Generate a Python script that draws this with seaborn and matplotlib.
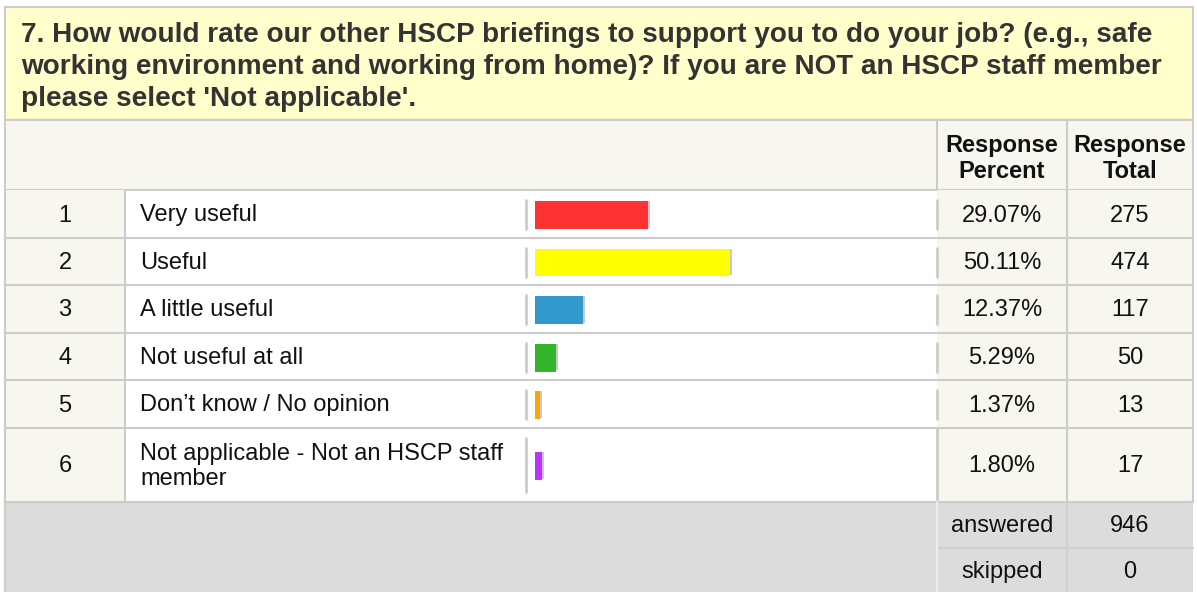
import textwrap
import matplotlib
matplotlib.use("Agg")
import matplotlib.pyplot as plt
import matplotlib.patheffects as pe
from matplotlib import font_manager as fm
from matplotlib.patches import Rectangle
import seaborn as sns

# Datos de la pregunta
pregunta = ("7. How would rate our other HSCP briefings to support you to do your job? (e.g., safe\n"
            "working environment and working from home)? If you are NOT an HSCP staff member\n"
            "please select 'Not applicable'.")
opciones = ["Very useful", "Useful", "A little useful", "Not useful at all",
            "Don\u2019t know / No opinion", "Not applicable - Not an HSCP staff member"]
porcentajes = [29.07, 50.11, 12.37, 5.29, 1.37, 1.80]
totales = [275, 474, 117, 50, 13, 17]
colores = ["#ff3333", "#ffff00", "#3399cc", "#33b52b", "#ffa500", "#bb33ff"]
respondidas = 946
omitidas = 0

sns.set_theme(style="white")
plt.rcParams["font.family"] = ["Liberation Sans", "DejaVu Sans"]

fs = 17
fs_titulo = 20.1

# buscar la Liberation Sans Bold (no la Narrow)
ruta_bold = None
for f in fm.fontManager.ttflist:
    if "liberationsans-bold.ttf" in f.fname.lower():
        ruta_bold = f.fname
if ruta_bold:
    negrita = fm.FontProperties(fname=ruta_bold, size=fs)
    negrita_t = fm.FontProperties(fname=ruta_bold, size=fs_titulo)
else:
    negrita = fm.FontProperties(family="Liberation Sans", weight="bold", size=fs)
    negrita_t = fm.FontProperties(family="Liberation Sans", weight="bold", size=fs_titulo)

W, H = 1197, 592
fig = plt.figure(figsize=(W / 100, H / 100), dpi=100)
fig.patch.set_facecolor("white")
ax = fig.add_axes([0, 0, 1, 1])
ax.set_xlim(0, W)
ax.set_ylim(H, 0)
ax.axis("off")

borde = "#cccccc"
beige = "#f7f7f0"
negro = "#111111"

# Cabecera amarilla con la pregunta
ax.add_patch(Rectangle((5, 7), 1188, 113, facecolor="#ffffcc", edgecolor=borde, lw=1.5))
for k, linea in enumerate(pregunta.split("\n")):
    ax.text(21, 41.5 + 32.5 * k, linea, fontproperties=negrita_t, color="#333333",
            va="baseline", ha="left")

# Fila de encabezados
ax.add_patch(Rectangle((5, 120), 1188, 70, facecolor=beige, edgecolor=borde, lw=1.5))
ax.plot([937, 937], [120, 190], color=borde, lw=1.5)
ax.plot([1067, 1067], [120, 190], color=borde, lw=1.5)
for xc, txt in [(1002, ["Response", "Percent"]), (1130, ["Response", "Total"])]:
    ax.text(xc, 152, txt[0], fontproperties=negrita, ha="center", va="baseline", color=negro)
    ax.text(xc, 178, txt[1], fontproperties=negrita, ha="center", va="baseline", color=negro)

# Filas de datos
limites = [190, 238, 285, 333, 380, 428, 502]
for i, (op, pct, tot, col) in enumerate(zip(opciones, porcentajes, totales, colores)):
    y0, y1 = limites[i], limites[i + 1]
    yc = (y0 + y1) / 2
    yt = yc + 1.5
    ax.add_patch(Rectangle((5, y0), 120, y1 - y0, facecolor=beige, edgecolor="none"))
    ax.add_patch(Rectangle((937, y0), 256, y1 - y0, facecolor=beige, edgecolor="none"))
    ax.plot([5, 1193], [y1, y1], color=borde, lw=1.5)
    for xv in [5, 125, 1067, 1193]:
        ax.plot([xv, xv], [y0, y1], color=borde, lw=1.5)
    # separadores cortos de la columna de barras
    if i < 5:
        ax.plot([526, 526], [yc - 14, yc + 15], color=borde, lw=2)
        ax.plot([937, 937], [yc - 14, yc + 15], color=borde, lw=2)
    else:
        ax.plot([526, 526], [y0 + 10, y1 - 10], color=borde, lw=2)
        ax.plot([937, 937], [y0, y1], color=borde, lw=2)

    ax.text(65, yt, str(i + 1), fontsize=fs, ha="center", va="center", color=negro)
    ax.text(140, yt, textwrap.fill(op, 34), fontsize=fs, ha="left", va="center",
            color=negro, linespacing=1.22)
    ax.text(1002, yt, f"{pct:.2f}%", fontsize=fs, ha="center", va="center", color=negro)
    ax.text(1130, yt, str(tot), fontsize=fs, ha="center", va="center", color=negro)

    # barra con seaborn
    axb = fig.add_axes([535 / W, 1 - (yc + 15) / H, 390 / W, 28 / H])
    sns.barplot(x=[pct], y=[op], color=col, orient="h", width=1, saturation=1,
                ax=axb, edgecolor="none")
    axb.set_xlim(0, 100)
    axb.set_ylim(0.5, -0.5)
    axb.axis("off")
    for p in axb.patches:
        p.set_path_effects([pe.SimplePatchShadow(offset=(1.4, 0.8), shadow_rgbFace="#c8c8c8",
                                                 alpha=1), pe.Normal()])

# Pie: respondidas / omitidas
ax.add_patch(Rectangle((5, 502), 1188, 90, facecolor="#dcdcdc", edgecolor="none"))
ax.plot([937, 1193], [548, 548], color="#cfcfcf", lw=1.5)
ax.plot([937, 937], [502, 592], color="#eeeeee", lw=1.5)
ax.plot([1067, 1067], [502, 592], color="#cfcfcf", lw=1.5)
ax.plot([5, 5], [502, 592], color=borde, lw=1.5)
ax.text(1002, 526, "answered", fontsize=fs, ha="center", va="center", color=negro)
ax.text(1130, 526, str(respondidas), fontsize=fs, ha="center", va="center", color=negro)
ax.text(1002, 572, "skipped", fontsize=fs, ha="center", va="center", color=negro)
ax.text(1130, 572, str(omitidas), fontsize=fs, ha="center", va="center", color=negro)

fig.savefig("out.png", dpi=100)
